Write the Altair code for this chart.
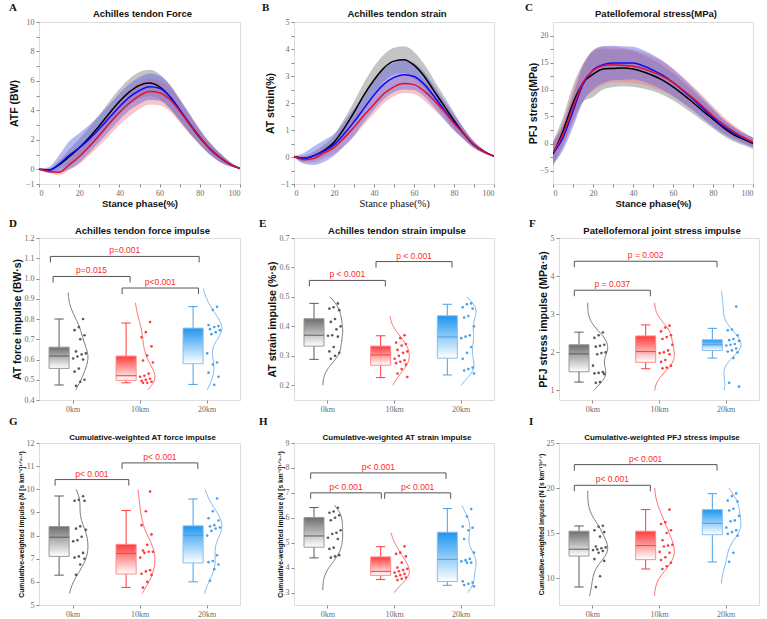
import altair as alt
import pandas as pd

GROUPS = ["0km", "10km", "20km"]
PHASE = [0, 5, 10, 15, 20, 25, 30, 35, 40, 45, 50, 55, 60, 65, 70, 75, 80, 85, 90, 95, 100]

# ---------------- Panel A: Achilles tendon force (BW) ----------------
A_MEAN = {
    "0km":  [0.0, -0.05, 0.3, 0.85, 1.45, 2.15, 2.95, 3.8, 4.6, 5.25, 5.7, 5.85, 5.6, 4.95, 4.0, 3.05, 2.15, 1.4, 0.8, 0.35, 0.05],
    "10km": [0.0, -0.15, -0.2, 0.3, 0.85, 1.55, 2.3, 3.1, 3.85, 4.5, 5.0, 5.28, 5.2, 4.75, 3.95, 3.05, 2.2, 1.4, 0.8, 0.35, 0.05],
    "20km": [0.0, -0.05, 0.35, 0.95, 1.45, 2.05, 2.75, 3.5, 4.25, 4.9, 5.35, 5.6, 5.5, 4.95, 4.05, 3.1, 2.2, 1.4, 0.8, 0.35, 0.05],
}
A_SD = {
    "0km":  [0.02, 0.1, 0.3, 0.5, 0.6, 0.7, 0.75, 0.8, 0.85, 0.9, 0.9, 0.9, 0.85, 0.8, 0.7, 0.6, 0.5, 0.4, 0.3, 0.15, 0.03],
    "10km": [0.02, 0.12, 0.2, 0.35, 0.5, 0.6, 0.7, 0.8, 0.85, 0.9, 0.9, 0.9, 0.85, 0.8, 0.75, 0.65, 0.5, 0.4, 0.3, 0.15, 0.03],
    "20km": [0.02, 0.2, 0.6, 0.95, 1.0, 0.95, 0.9, 0.9, 0.9, 0.9, 0.9, 0.9, 0.85, 0.8, 0.75, 0.65, 0.5, 0.4, 0.3, 0.15, 0.03],
}
# ---------------- Panel B: Achilles tendon strain (%) ----------------
B_MEAN = {
    "0km":  [0.02, -0.05, 0.05, 0.25, 0.55, 1.05, 1.65, 2.3, 2.85, 3.3, 3.55, 3.6, 3.4, 3.0, 2.45, 1.9, 1.35, 0.85, 0.45, 0.2, 0.03],
    "10km": [0.02, -0.1, -0.05, 0.15, 0.35, 0.7, 1.1, 1.55, 1.95, 2.35, 2.6, 2.72, 2.68, 2.45, 2.1, 1.7, 1.25, 0.85, 0.45, 0.2, 0.03],
    "20km": [0.02, -0.05, 0.05, 0.22, 0.45, 0.85, 1.3, 1.8, 2.3, 2.7, 2.95, 3.05, 2.98, 2.7, 2.25, 1.75, 1.28, 0.85, 0.45, 0.2, 0.03],
}
B_SD = {
    "0km":  [0.02, 0.1, 0.15, 0.2, 0.25, 0.35, 0.4, 0.45, 0.5, 0.5, 0.5, 0.5, 0.5, 0.45, 0.4, 0.35, 0.3, 0.2, 0.12, 0.06, 0.02],
    "10km": [0.02, 0.1, 0.15, 0.2, 0.25, 0.3, 0.35, 0.35, 0.35, 0.35, 0.35, 0.35, 0.35, 0.35, 0.35, 0.3, 0.25, 0.2, 0.12, 0.06, 0.02],
    "20km": [0.02, 0.2, 0.35, 0.4, 0.4, 0.45, 0.5, 0.5, 0.55, 0.55, 0.55, 0.55, 0.5, 0.45, 0.4, 0.35, 0.3, 0.2, 0.12, 0.06, 0.02],
}
# ---------------- Panel C: Patellofemoral stress (MPa) ----------------
C_MEAN = {
    "0km":  [-2.0, 2.3, 7.5, 11.2, 12.8, 13.8, 13.9, 14.0, 13.8, 13.3, 12.6, 11.7, 10.5, 9.1, 7.6, 6.0, 4.5, 3.0, 1.7, 0.8, 0.0],
    "10km": [-1.6, 1.7, 6.7, 11.3, 13.5, 14.4, 14.6, 14.5, 14.3, 13.9, 13.2, 12.4, 11.3, 9.9, 8.4, 6.8, 5.1, 3.6, 2.3, 1.2, 0.2],
    "20km": [-1.8, 1.1, 6.0, 11.0, 13.6, 14.6, 14.9, 14.9, 14.9, 14.4, 13.6, 12.6, 11.3, 9.8, 8.2, 6.5, 4.8, 3.2, 2.0, 1.0, 0.2],
}
C_SD = {
    "0km":  [2.3, 2.6, 3.2, 3.5, 4.2, 3.8, 3.5, 3.4, 3.3, 3.1, 2.9, 2.7, 2.5, 2.3, 2.1, 1.9, 1.7, 1.5, 1.3, 1.1, 1.0],
    "10km": [2.0, 2.4, 3.0, 3.4, 3.8, 3.6, 3.3, 3.2, 3.1, 3.0, 2.9, 2.8, 2.6, 2.4, 2.2, 2.0, 1.8, 1.5, 1.2, 1.0, 0.9],
    "20km": [2.0, 2.4, 3.0, 3.3, 3.6, 3.4, 3.2, 3.1, 3.0, 2.9, 2.8, 2.7, 2.5, 2.3, 2.1, 1.9, 1.7, 1.4, 1.2, 1.0, 0.9],
}

# ---------------- Box panels: individual values ----------------
D_POINTS = {
    "0km":  [0.80, 0.76, 0.745, 0.72, 0.70, 0.64, 0.63, 0.625, 0.615, 0.605, 0.60, 0.555, 0.54, 0.50, 0.49, 0.47],
    "10km": [0.785, 0.735, 0.71, 0.665, 0.62, 0.595, 0.585, 0.53, 0.52, 0.515, 0.505, 0.50, 0.495, 0.49, 0.485, 0.485],
    "20km": [0.86, 0.845, 0.77, 0.765, 0.76, 0.75, 0.745, 0.735, 0.725, 0.63, 0.585, 0.575, 0.535, 0.515, 0.475],
}
E_POINTS = {
    "0km":  [0.478, 0.465, 0.46, 0.455, 0.425, 0.415, 0.40, 0.39, 0.37, 0.368, 0.365, 0.33, 0.315, 0.31, 0.30, 0.29],
    "10km": [0.37, 0.36, 0.345, 0.34, 0.335, 0.32, 0.315, 0.31, 0.30, 0.29, 0.285, 0.28, 0.275, 0.27, 0.255, 0.24, 0.228],
    "20km": [0.478, 0.475, 0.465, 0.46, 0.435, 0.43, 0.40, 0.37, 0.365, 0.36, 0.33, 0.31, 0.29, 0.26, 0.255, 0.25, 0.24],
}
F_POINTS = {
    "0km":  [2.52, 2.45, 2.38, 2.2, 2.17, 2.15, 2.0, 1.98, 1.95, 1.65, 1.48, 1.46, 1.45, 1.43, 1.22, 1.2],
    "10km": [2.7, 2.65, 2.55, 2.45, 2.4, 2.35, 2.2, 2.05, 2.0, 1.98, 1.95, 1.8, 1.75, 1.65, 1.6, 1.58],
    "20km": [3.2, 2.6, 2.58, 2.45, 2.35, 2.32, 2.3, 2.22, 2.2, 2.18, 2.1, 2.05, 2.02, 2.0, 1.85, 1.2, 1.1],
}
G_POINTS = {
    "0km":  [9.7, 9.55, 9.5, 9.5, 8.4, 8.3, 8.25, 7.95, 7.8, 7.75, 7.25, 7.1, 7.05, 7.0, 6.75, 6.3],
    "10km": [9.9, 9.05, 8.45, 8.05, 7.6, 7.35, 7.3, 7.3, 7.25, 7.05, 6.5, 6.45, 6.35, 6.3, 6.0, 5.75],
    "20km": [9.6, 9.05, 8.75, 8.65, 8.45, 8.4, 8.35, 8.3, 8.2, 8.0, 7.15, 6.9, 6.85, 6.75, 6.55, 6.05],
}
H_POINTS = {
    "0km":  [6.4, 6.25, 6.2, 6.1, 6.0, 5.9, 5.5, 5.4, 5.35, 5.2, 5.15, 4.8, 4.75, 4.5, 4.45, 4.4],
    "10km": [4.85, 4.6, 4.55, 4.45, 4.2, 4.0, 3.95, 3.9, 3.85, 3.8, 3.75, 3.7, 3.65, 3.6, 3.55, 3.5],
    "20km": [6.35, 6.05, 5.65, 5.6, 5.5, 5.15, 4.6, 4.35, 4.3, 4.25, 4.2, 4.2, 3.45, 3.4, 3.35, 3.3, 3.25],
}
I_POINTS = {
    "0km":  [15.8, 15.7, 15.3, 15.1, 14.6, 13.5, 13.4, 13.3, 13.2, 13.1, 13.0, 12.8, 12.1, 11.9, 10.2, 9.0],
    "10km": [17.6, 16.2, 16.0, 15.3, 15.0, 14.2, 13.7, 13.6, 13.5, 12.9, 12.8, 12.3, 12.0, 11.7, 11.3, 11.0],
    "20km": [19.4, 19.1, 18.6, 18.5, 17.7, 17.5, 16.9, 16.4, 16.3, 15.6, 15.3, 15.1, 14.9, 14.7, 12.8, 11.8],
}

# box statistics per group: [min, q1, median, q3, max]
D_BOX = {"0km": [0.474, 0.556, 0.617, 0.661, 0.80], "10km": [0.485, 0.497, 0.52, 0.617, 0.78], "20km": [0.477, 0.579, 0.735, 0.755, 0.861]}
E_BOX = {"0km": [0.288, 0.333, 0.37, 0.426, 0.478], "10km": [0.226, 0.268, 0.303, 0.333, 0.368], "20km": [0.235, 0.292, 0.364, 0.436, 0.475]}
F_BOX = {"0km": [1.22, 1.49, 1.96, 2.2, 2.53], "10km": [1.57, 1.74, 2.02, 2.43, 2.72], "20km": [1.85, 2.05, 2.2, 2.33, 2.63]}
G_BOX = {"0km": [6.29, 7.1, 7.93, 8.39, 9.71], "10km": [5.76, 6.34, 7.23, 7.62, 9.08], "20km": [6.0, 6.82, 8.0, 8.42, 9.58]}
H_BOX = {"0km": [4.39, 4.82, 5.27, 6.01, 6.41], "10km": [3.52, 3.69, 3.85, 4.43, 4.84], "20km": [3.29, 3.44, 4.33, 5.42, 6.37]}
I_BOX = {"0km": [9.0, 12.44, 13.2, 15.2, 15.78], "10km": [11.0, 12.04, 13.6, 15.2, 17.6], "20km": [11.78, 14.81, 16.07, 17.6, 19.37]}

# extent of the half-violin distribution curves
D_CURVE = {"0km": [0.45, 0.93], "10km": [0.45, 0.88], "20km": [0.45, 0.95]}
E_CURVE = {"0km": [0.2, 0.5], "10km": [0.2, 0.435], "20km": [0.2, 0.5]}
F_CURVE = {"0km": [1.0, 3.3], "10km": [1.0, 3.3], "20km": [1.0, 3.6]}
G_CURVE = {"0km": [5.5, 10.0], "10km": [5.5, 10.0], "20km": [5.5, 10.0]}
H_CURVE = {"0km": [3.1, 6.5], "10km": [3.0, 5.4], "20km": [3.0, 6.5]}
I_CURVE = {"0km": [8.0, 19.7], "10km": [8.0, 20.0], "20km": [9.4, 20.0]}

# significance brackets: (from group, to group, height, label)
D_SIG = [("0km", "20km", 1.109, "p=0.001"), ("0km", "10km", 1.01, "p=0.015"), ("10km", "20km", 0.953, "p<0.001")]
E_SIG = [("0km", "10km", 0.556, "p < 0.001"), ("10km", "20km", 0.62, "p < 0.001")]
F_SIG = [("0km", "20km", 4.39, "p = 0.002"), ("0km", "10km", 3.63, "p = 0.037")]
G_SIG = [("0km", "10km", 10.42, "p< 0.001"), ("10km", "20km", 11.14, "p< 0.001")]
H_SIG = [("0km", "20km", 7.8, "p< 0.001"), ("0km", "10km", 7.0, "p< 0.001"), ("10km", "20km", 7.0, "p< 0.001")]
I_SIG = [("0km", "20km", 22.6, "p< 0.001"), ("0km", "10km", 20.3, "p< 0.001")]

# ---------------- styling ----------------
SANS = "Liberation Sans"
SERIF = "Liberation Serif"
LINE_COLORS = {"0km": "#000000", "10km": "#e0102e", "20km": "#0a0aff"}
BAND_STYLE = [("0km", "#9c9c9c", 0.6), ("10km", "#f07e86", 0.45), ("20km", "#6262e0", 0.45)]
BOX_TOP = {"0km": "#6e6e6e", "10km": "#ff3b3b", "20km": "#1e96f0"}
BOX_EDGE = {"0km": "#9a9a9a", "10km": "#ff8a8a", "20km": "#86bff0"}
CURVE_COL = {"0km": "#6a6a6a", "10km": "#ff5a5a", "20km": "#6fb0ec"}
PT_COL = {"0km": "#5a5a5a", "10km": "#ff3b3b", "20km": "#4aa0ea"}
H_PLOT = 162


def lab_expr(vals):
    return "indexof([" + ",".join(str(v) for v in vals) + "], datum.value) >= 0 ? format(datum.value, '~g') : ''"


def axis(**kw):
    base = dict(labelFont=SERIF, labelFontSize=8, labelColor="#6b6b6b", tickColor="#8a8a8a",
                tickSize=3, labelPadding=2, domain=False, grid=False, titleFont=SANS,
                titleFontWeight="bold", titleFontSize=10.5, titleColor="#111111")
    base.update(kw)
    return alt.Axis(**base)


def heading_layers(letter, dx, dy, title, width, size, tdy):
    lt = alt.Chart(pd.DataFrame({"t": [letter]})).mark_text(
        font=SERIF, fontWeight="bold", fontSize=11, align="left", baseline="alphabetic", color="#111111"
    ).encode(x=alt.value(dx), y=alt.value(dy), text="t:N")
    tt = alt.Chart(pd.DataFrame({"t": [title]})).mark_text(
        font=SANS, fontWeight="bold", fontSize=size, align="center", baseline="alphabetic", color="#111111"
    ).encode(x=alt.value(width / 2 + 3), y=alt.value(tdy), text="t:N")
    return [lt, tt]


def curve_panel(letter, title, ytitle, means, sds, ydom, yticks, ylabels, width,
                ytitle_pad, letter_dx, serif_xtitle=False):
    rows = []
    for g in GROUPS:
        for p, m, s in zip(PHASE, means[g], sds[g]):
            rows.append({"phase": p, "group": g, "mean": m, "sd": s})
    df = pd.DataFrame(rows)
    xs = alt.Scale(domain=[0, 100], nice=False, zero=False)
    ys = alt.Scale(domain=ydom, nice=False, zero=False)
    xkw = dict(titleFont=SERIF, titleFontWeight="normal", titleFontSize=10.5) if serif_xtitle else dict(titleFontSize=9.5)
    xax = axis(values=list(range(0, 101, 10)), labelExpr=lab_expr([0, 20, 40, 60, 80, 100]),
               title="Stance phase(%)", titlePadding=1, **xkw)
    yax = axis(values=yticks, labelExpr=lab_expr(ylabels), title=ytitle, titlePadding=ytitle_pad)
    X = alt.X("phase:Q", scale=xs, axis=xax)
    base = alt.Chart(df)
    layers = []
    for g, col, op in BAND_STYLE:
        layers.append(
            base.transform_filter(alt.datum.group == g)
            .transform_calculate(lo="datum.mean - datum.sd", hi="datum.mean + datum.sd")
            .mark_area(color=col, opacity=op, interpolate="monotone", clip=True)
            .encode(x=X, y=alt.Y("lo:Q", scale=ys, axis=yax), y2="hi:Q")
        )
    for g in ["0km", "20km", "10km"]:
        layers.append(
            base.transform_filter(alt.datum.group == g)
            .mark_line(color=LINE_COLORS[g], strokeWidth=1.5, interpolate="monotone", clip=True)
            .encode(x=X, y=alt.Y("mean:Q", scale=ys, axis=yax))
        )
    layers += heading_layers(letter, letter_dx, -11, title, width, 9.5, -5)
    return alt.layer(*layers).properties(width=width, height=H_PLOT)


def box_panel(letter, title, ytitle, points, box, curve, bw, sig, ydom, yticks, width,
              title_size, ytitle_size, ytitle_pad, letter_dx, letter_dy, title_dy,
              sig_inset=None):
    gi = {g: i for i, g in enumerate(GROUPS)}
    pdf = pd.DataFrame([{"group": g, "gi": gi[g], "value": v} for g in GROUPS for v in points[g]])
    sdf = pd.DataFrame([{"group": g, "gi": gi[g], "lo": box[g][0], "q1": box[g][1], "med": box[g][2],
                         "q3": box[g][3], "hi": box[g][4]} for g in GROUPS])
    insets = sig_inset or [(-0.27, -0.13)] * len(sig)
    bdf = pd.DataFrame([{"a": gi[s[0]], "b": gi[s[1]], "y": s[2], "label": s[3],
                         "li": ins[0], "ri": ins[1]} for s, ins in zip(sig, insets)])
    xs = alt.Scale(domain=[-0.5, 2.5], nice=False, zero=False)
    ys = alt.Scale(domain=ydom, nice=False, zero=False)
    labels = "[" + ",".join("'" + g + "'" for g in GROUPS) + "]"
    xax = axis(values=[0, 1, 2], labelExpr=labels + "[datum.value]", title=None)
    yax = axis(values=yticks, title=ytitle, titlePadding=ytitle_pad, titleFontSize=ytitle_size)

    def XQ(f):
        return alt.X(f, scale=xs, axis=xax)

    def YQ(f):
        return alt.Y(f, scale=ys, axis=yax)

    edge_scale = alt.Scale(domain=GROUPS, range=[BOX_EDGE[g] for g in GROUPS])
    layers = []
    for g in GROUPS:
        layers.append(
            alt.Chart(pdf).transform_filter(alt.datum.group == g)
            .transform_density("value", as_=["value", "density"], bandwidth=bw, extent=curve[g], steps=80)
            .transform_joinaggregate(dmax="max(density)")
            .transform_calculate(vx=f"{gi[g]} - 0.07 + 0.30 * datum.density / datum.dmax")
            .mark_line(color=CURVE_COL[g], strokeWidth=0.9)
            .encode(x=XQ("vx:Q"), y=YQ("value:Q"), order=alt.Order("value:Q"))
        )
    layers.append(
        alt.Chart(pdf).transform_window(rank="row_number()", groupby=["group"])
        .transform_calculate(px="datum.gi + 0.01 + 0.19 * ((datum.rank * 7) % 10) / 9")
        .mark_circle(size=7, opacity=1)
        .encode(x=XQ("px:Q"), y=YQ("value:Q"),
                color=alt.Color("group:N", scale=alt.Scale(domain=GROUPS, range=[PT_COL[g] for g in GROUPS]), legend=None))
    )
    sb = alt.Chart(sdf).transform_calculate(
        bx="datum.gi - 0.2", bl="datum.gi - 0.35", br="datum.gi - 0.05",
        cl="datum.gi - 0.27", cr="datum.gi - 0.13")
    col = alt.Color("group:N", scale=edge_scale, legend=None)
    layers.append(sb.mark_rule(strokeWidth=1).encode(x=XQ("bx:Q"), y=YQ("lo:Q"), y2="hi:Q", color=col))
    layers.append(sb.mark_rule(strokeWidth=1).encode(x=XQ("cl:Q"), x2="cr:Q", y=YQ("lo:Q"), color=col))
    layers.append(sb.mark_rule(strokeWidth=1).encode(x=XQ("cl:Q"), x2="cr:Q", y=YQ("hi:Q"), color=col))
    for g in GROUPS:
        grad = alt.Gradient(gradient="linear", x1=0, x2=0, y1=0, y2=1,
                            stops=[alt.GradientStop(color=BOX_TOP[g], offset=0),
                                   alt.GradientStop(color="#ffffff", offset=1)])
        layers.append(sb.transform_filter(alt.datum.group == g)
                      .mark_rect(fill=grad, stroke=BOX_EDGE[g], strokeWidth=1)
                      .encode(x=XQ("bl:Q"), x2="br:Q", y=YQ("q1:Q"), y2="q3:Q"))
    layers.append(sb.mark_rule(strokeWidth=1).encode(x=XQ("bl:Q"), x2="br:Q", y=YQ("med:Q"), color=col))
    bb = alt.Chart(bdf).transform_calculate(xl="datum.a + datum.li", xr="datum.b + datum.ri",
                                            xm="(datum.a + datum.li + datum.b + datum.ri) / 2")
    layers.append(bb.mark_rule(color="#555555", strokeWidth=1).encode(x=XQ("xl:Q"), x2="xr:Q", y=YQ("y:Q")))
    layers.append(bb.mark_rule(color="#555555", strokeWidth=1, y2Offset=6).encode(x=XQ("xl:Q"), y=YQ("y:Q"), y2="y:Q"))
    layers.append(bb.mark_rule(color="#555555", strokeWidth=1, y2Offset=6).encode(x=XQ("xr:Q"), y=YQ("y:Q"), y2="y:Q"))
    layers.append(bb.mark_text(color="#ff2a2a", font=SANS, fontSize=8.5, dy=-6)
                  .encode(x=XQ("xm:Q"), y=YQ("y:Q"), text="label:N"))
    layers += heading_layers(letter, letter_dx, letter_dy, title, width, title_size, title_dy)
    return alt.layer(*layers).properties(width=width, height=H_PLOT)


pA = curve_panel("A", "Achilles tendon Force", "ATF (BW)", A_MEAN, A_SD, [-1, 10],
                 [-1, 0, 1, 2, 3, 4, 5, 6, 7, 8, 9, 10], [-1, 0, 2, 4, 6, 8, 10], 201, 6, -30)
pB = curve_panel("B", "Achilles tendon strain", "AT strain(%)", B_MEAN, B_SD, [-1, 5],
                 [-1, -0.5, 0, 0.5, 1, 1.5, 2, 2.5, 3, 3.5, 4, 4.5, 5], [-1, 0, 1, 2, 3, 4, 5], 200, 5, -32,
                 serif_xtitle=True)
pC = curve_panel("C", "Patellofemoral stress(MPa)", "PFJ stress(MPa)", C_MEAN, C_SD, [-7.5, 22.5],
                 [-5, -2.5, 0, 2.5, 5, 7.5, 10, 12.5, 15, 17.5, 20], [-5, 0, 5, 10, 15, 20], 200, 1, -28)

CUM_T = "Cumulative-weighted  impulse (N [s km⁻¹]¹ᐟ⁹·³)"
CUM_T_I = "Cumulative-weighted  impulse (N [s km⁻¹]¹ᐟ⁷)"

pD = box_panel("D", "Achilles tendon force impulse", "AT force impulse (BW·s)", D_POINTS, D_BOX, D_CURVE, 0.06,
               D_SIG, [0.4, 1.2], [0.4, 0.5, 0.6, 0.7, 0.8, 0.9, 1.0, 1.1, 1.2], 201, 9.5, 10.5, 2, -30, -11, -4.5,
               sig_inset=[(-0.33, -0.11), (-0.29, -0.14), (-0.26, -0.12)])
pE = box_panel("E", "Achilles tendon strain impulse", "AT strain impulse (%·s)", E_POINTS, E_BOX, E_CURVE, 0.035,
               E_SIG, [0.15, 0.7], [0.2, 0.3, 0.4, 0.5, 0.6, 0.7], 200, 9.5, 10.5, 2, -35, -11, -4.5)
pF = box_panel("F", "Patellofemoral joint stress impulse", "PFJ stress impulse (MPa·s)", F_POINTS, F_BOX, F_CURVE, 0.25,
               F_SIG, [0.75, 5], [1, 2, 3, 4, 5], 200, 9.5, 10.5, 2, -30, -11, -4.5)
pG = box_panel("G", "Cumulative-weighted AT force impulse", CUM_T, G_POINTS, G_BOX, G_CURVE, 0.6,
               G_SIG, [5, 12], [5, 6, 7, 8, 9, 10, 11, 12], 201, 8, 6.8, 2, -30, -18, -3,
               sig_inset=[(-0.26, -0.16), (-0.26, -0.13)])
pH = box_panel("H", "Cumulative-weighted AT strain impulse", CUM_T, H_POINTS, H_BOX, H_CURVE, 0.45,
               H_SIG, [2.5, 9], [3, 4, 5, 6, 7, 8, 9], 200, 8, 6.8, 2, -35, -18, -3,
               sig_inset=[(-0.25, -0.22), (-0.25, -0.19), (-0.14, -0.15)])
pI = box_panel("I", "Cumulative-weighted PFJ stress impulse", CUM_T_I, I_POINTS, I_BOX, I_CURVE, 1.2,
               I_SIG, [7, 25], [10, 15, 20, 25], 200, 8, 6.8, 2, -30, -18, -3)


def row(a, b, c, s2):
    return alt.hconcat(alt.hconcat(a, b, spacing=54, bounds="flush"), c, spacing=s2)


chart = alt.vconcat(
    row(pA, pB, pC, 29),
    alt.vconcat(row(pD, pE, pF, 33), row(pG, pH, pI, 33), spacing=1),
    spacing=8,
).properties(
    padding={"left": 8, "top": 1, "right": 0, "bottom": 0}
).configure_view(stroke="#8a8a8a", strokeWidth=1.6).configure(background="#ffffff")

chart.save("out.html", embed_options={"renderer": "svg", "actions": False})
